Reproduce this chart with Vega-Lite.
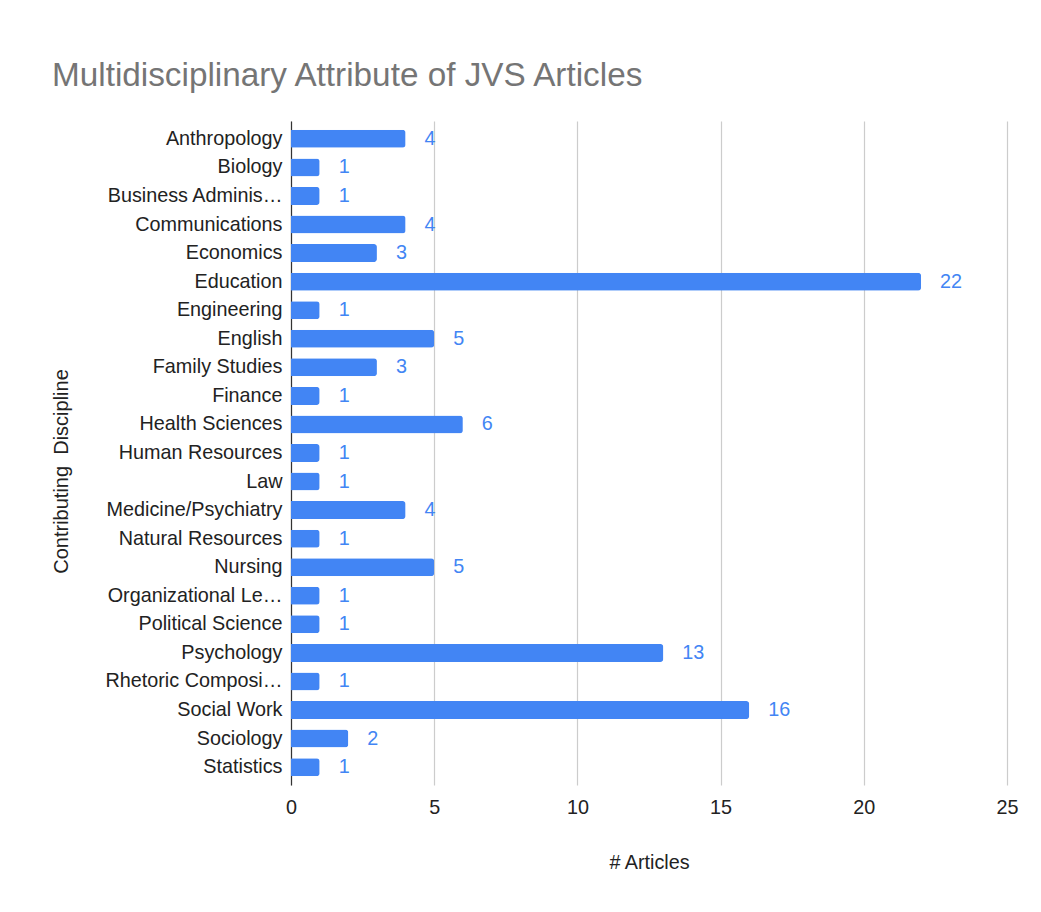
{
  "$schema": "https://vega.github.io/schema/vega-lite/v6.json",
  "autosize": "none",
  "width": 716,
  "height": 664,
  "padding": {"left": 291, "top": 121, "right": 34, "bottom": 127},
  "background": "white",
  "title": {
    "text": "Multidisciplinary Attribute of JVS Articles",
    "anchor": "start",
    "frame": "group",
    "dx": -239,
    "offset": 28,
    "font": "Liberation Sans",
    "fontSize": 33.3,
    "fontWeight": "normal",
    "color": "#757575"
  },
  "data": {
    "values": [
      {"discipline": "Anthropology", "articles": 4},
      {"discipline": "Biology", "articles": 1},
      {"discipline": "Business Adminis…", "articles": 1},
      {"discipline": "Communications", "articles": 4},
      {"discipline": "Economics", "articles": 3},
      {"discipline": "Education", "articles": 22},
      {"discipline": "Engineering", "articles": 1},
      {"discipline": "English", "articles": 5},
      {"discipline": "Family Studies", "articles": 3},
      {"discipline": "Finance", "articles": 1},
      {"discipline": "Health Sciences", "articles": 6},
      {"discipline": "Human Resources", "articles": 1},
      {"discipline": "Law", "articles": 1},
      {"discipline": "Medicine/Psychiatry", "articles": 4},
      {"discipline": "Natural Resources", "articles": 1},
      {"discipline": "Nursing", "articles": 5},
      {"discipline": "Organizational Le…", "articles": 1},
      {"discipline": "Political Science", "articles": 1},
      {"discipline": "Psychology", "articles": 13},
      {"discipline": "Rhetoric Composi…", "articles": 1},
      {"discipline": "Social Work", "articles": 16},
      {"discipline": "Sociology", "articles": 2},
      {"discipline": "Statistics", "articles": 1}
    ]
  },
  "encoding": {
    "y": {
      "field": "discipline",
      "type": "nominal",
      "sort": null,
      "scale": {"paddingInner": 0.37, "paddingOuter": 0.31},
      "axis": {
        "title": "Contributing\u00a0\u00a0Discipline",
        "titleFont": "Liberation Sans",
        "titleFontSize": 20,
        "titleFontWeight": "normal",
        "titleColor": "#222222",
        "titlePadding": 34,
        "titleY": 350,
        "labelFont": "Liberation Sans",
        "labelFontSize": 19.8,
        "labelColor": "#222222",
        "labelPadding": 9,
        "labelLimit": 300,
        "ticks": false,
        "grid": false,
        "domain": true,
        "domainColor": "#333333",
        "domainWidth": 1.2
      }
    },
    "x": {
      "field": "articles",
      "type": "quantitative",
      "scale": {"domain": [0, 25], "nice": false},
      "axis": {
        "title": "# Articles",
        "values": [0, 5, 10, 15, 20, 25],
        "titleFont": "Liberation Sans",
        "titleFontSize": 19.8,
        "titleFontWeight": "normal",
        "titleColor": "#222222",
        "titlePadding": 36,
        "labelFont": "Liberation Sans",
        "labelFontSize": 19.8,
        "labelColor": "#222222",
        "labelPadding": 12,
        "labelFlush": false,
        "ticks": false,
        "domain": false,
        "grid": true,
        "gridColor": "#cccccc",
        "gridWidth": 1.2
      }
    }
  },
  "layer": [
    {
      "mark": {"type": "bar", "color": "#4285F4", "cornerRadiusEnd": 3}
    },
    {
      "mark": {
        "type": "text",
        "align": "left",
        "baseline": "middle",
        "dx": 19,
        "font": "Liberation Sans",
        "fontSize": 19.8,
        "color": "#4285F4"
      },
      "encoding": {"text": {"field": "articles", "type": "quantitative"}}
    }
  ],
  "config": {"view": {"stroke": null}}
}
